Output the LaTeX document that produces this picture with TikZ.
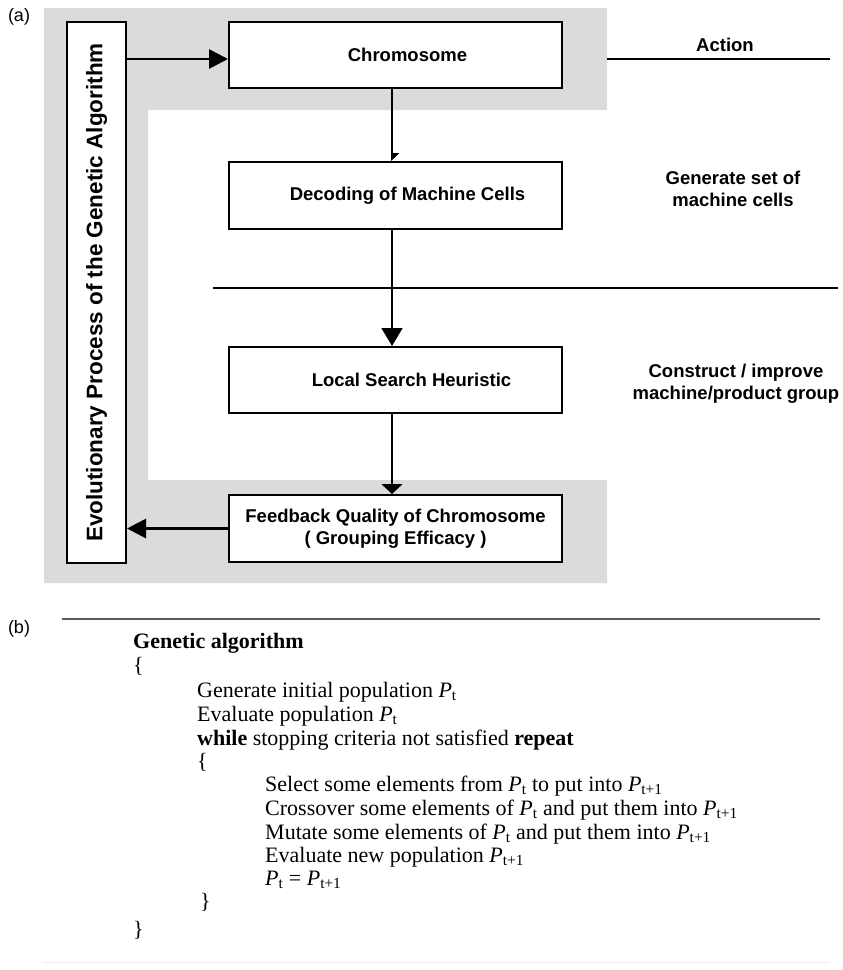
\documentclass[tikz,border=0pt]{standalone}
\usepackage{fontspec}
\setmainfont{Liberation Serif}
\newfontfamily\diagfont{Liberation Sans}
\usetikzlibrary{arrows.meta}
\newcommand\gaP{\textit{P}\textsubscript{t}}
\newcommand\gaPn{\textit{P}\textsubscript{t+1}}
\begin{document}
\begin{tikzpicture}[x=1pt,y=-1pt,
 box/.style={draw,line width=2pt,inner sep=0pt,align=center,fill=white,
   font=\diagfont\bfseries\fontsize{18.5}{22}\selectfont},
 lbl/.style={inner sep=0pt,align=center,font=\diagfont\bfseries\fontsize{18.5}{22}\selectfont},
 tag/.style={inner sep=0pt,font=\diagfont\fontsize{18}{20}\selectfont},
 code/.style={anchor=base west,inner sep=0pt,font=\fontsize{22}{24}\selectfont},
 thickarrow/.style={line width=2.8pt,-{Triangle[length=19pt,width=19pt]}},
 flow/.style={line width=1.6pt,-{Triangle[length=18pt,width=21pt]}},
 rule/.style={line width=1.6pt},
]
\useasboundingbox (0,0) rectangle (843,970);
% grey band
\fill[black!14] (44,8) -- (607,8) -- (607,110) -- (148,110) -- (148,480)
  -- (607,480) -- (607,583) -- (44,583) -- cycle;
% labels (a) (b)
\node[tag] (la) at (19,17) {(a)};
\node[tag] (lb) at (19,629) {(b)};
% separator lines
\coordinate (h1) at (213,288); \coordinate (h2) at (838,288);
\draw[rule] (h1) -- (h2);
\coordinate (a1) at (607,59); \coordinate (a2) at (830,59);
\draw[rule] (a1) -- (a2);
% boxes
\node[box,rotate=90,minimum width=541pt,minimum height=59pt,
  font=\diagfont\bfseries\fontsize{22.5}{24}\selectfont] (evo) at (96.5,292.5)
  {Evolutionary Process of the Genetic Algorithm};
\node[box,minimum width=333pt,minimum height=66pt] (chrom) at (395.5,55)
  {\hspace*{24pt}Chromosome};
\node[box,minimum width=333pt,minimum height=67pt] (decod) at (395.5,195.5)
  {\hspace*{24pt}Decoding of Machine Cells};
\node[box,minimum width=333pt,minimum height=66pt] (local) at (395.5,380)
  {\hspace*{32pt}\raisebox{-5pt}{Local Search Heuristic}};
\node[box,minimum width=333pt,minimum height=67pt] (feed) at (395.5,528.5)
  {Feedback Quality of Chromosome\\( Grouping Efficacy )};
% right-hand labels
\node[lbl] (act) at (725,45) {Action};
\node[lbl] (gen) at (733,189) {Generate set of\\machine cells};
\node[lbl] (con) at (736,384) {Construct / improve\\machine/product group};
% connectors
\coordinate (t1) at ([yshift=-4pt]chrom.west);
\draw[thickarrow] (t1 -| evo.south) -- (t1);
\draw[thickarrow] (feed.west) -- (feed.west -| evo.south);
\draw[line width=1.6pt,-{Triangle[length=7pt,width=14pt,left]}]
  ([xshift=-3.5pt]chrom.south) -- ([xshift=-3.5pt]decod.north);
\draw[flow] ([xshift=-3.5pt]decod.south) -- ([xshift=-3.5pt]local.north);
\draw[line width=1.6pt,-{Triangle[length=10pt,width=21pt]}]
  ([xshift=-3.5pt]local.south) -- ([xshift=-3.5pt]feed.north);
% part (b)
\coordinate (b1) at (62,619); \coordinate (b2) at (820,619);
\draw[line width=1.5pt,black!65] (b1) -- (b2);
\coordinate (c1) at (42,962); \coordinate (c2) at (830,962);
\draw[line width=0.8pt,black!8] (c1) -- (c2);
\node[code,font=\bfseries\fontsize{22}{24}\selectfont] (g0) at (133,648) {Genetic algorithm};
\node[code] (g1) at (133,672) {\{};
\node[code] (g2) at (197,697) {Generate initial population \gaP};
\node[code] (g3) at (197,721) {Evaluate population \gaP};
\node[code] (g4) at (197,745) {\textbf{while} stopping criteria not satisfied \textbf{repeat}};
\node[code] (g5) at (197,768) {\{};
\node[code] (g6) at (265,791) {Select some elements from \gaP{} to put into \gaPn};
\node[code] (g7) at (265,815) {Crossover some elements of \gaP{} and put them into \gaPn};
\node[code] (g8) at (265,839) {Mutate some elements of \gaP{} and put them into \gaPn};
\node[code] (g9) at (265,862) {Evaluate new population \gaPn};
\node[code] (g10) at (265,885) {\gaP{} = \gaPn};
\node[code] (g11) at (200,908) {\}};
\node[code] (g12) at (133,936) {\}};
\end{tikzpicture}
\end{document}
